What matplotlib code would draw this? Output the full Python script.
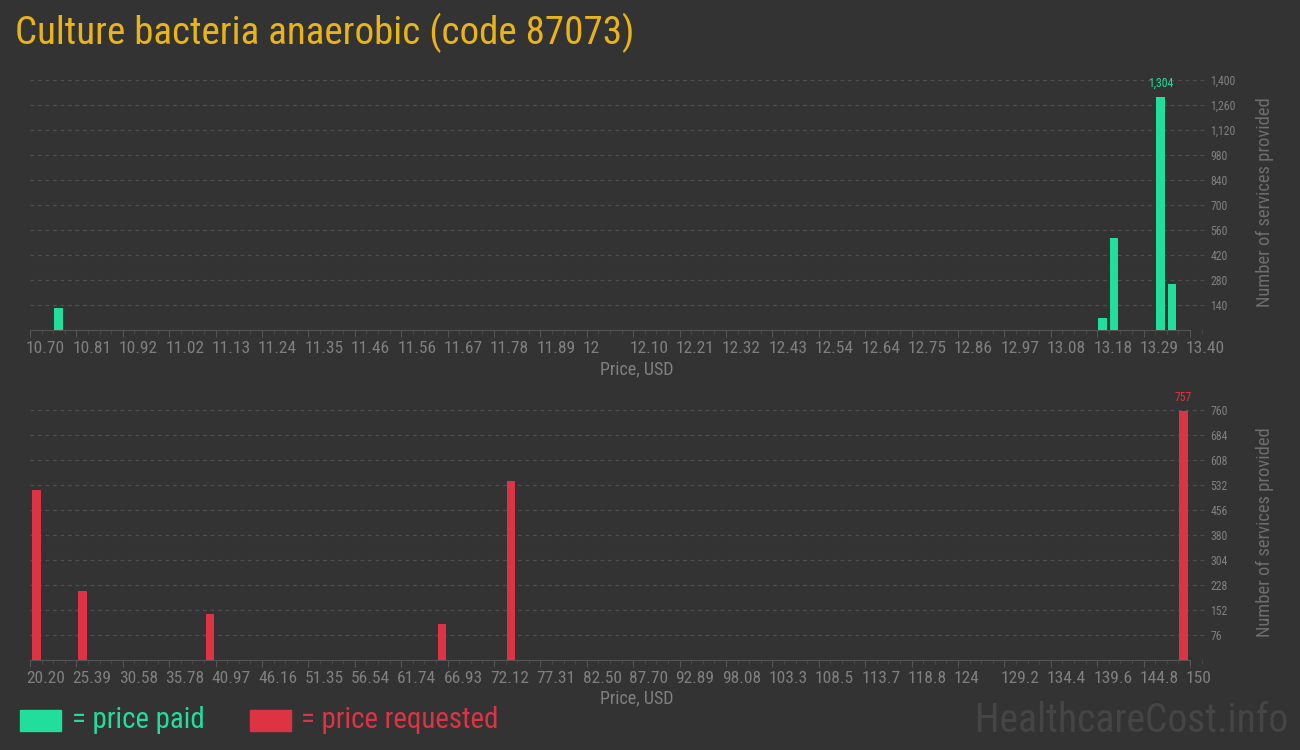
import matplotlib
matplotlib.use("Agg")
import matplotlib.pyplot as plt
from matplotlib import font_manager as fm
from matplotlib.patches import Rectangle
from matplotlib.transforms import ScaledTranslation
from matplotlib.ticker import AutoMinorLocator

# data
paid_price = [10.766, 13.196, 13.223, 13.331, 13.358]
paid_count = [125, 67, 515, 1304, 258]
paid_ticks = ["10.70", "10.81", "10.92", "11.02", "11.13", "11.24", "11.35", "11.46",
              "11.56", "11.67", "11.78", "11.89", "12", "12.10", "12.21", "12.32",
              "12.43", "12.54", "12.64", "12.75", "12.86", "12.97", "13.08", "13.18",
              "13.29", "13.40"]
paid_yticks = [140, 280, 420, 560, 700, 840, 980, 1120, 1260, 1400]

req_price = [20.90, 26.05, 40.35, 66.31, 74.05, 149.25]
req_count = [517, 211, 141, 108, 545, 757]
req_ticks = ["20.20", "25.39", "30.58", "35.78", "40.97", "46.16", "51.35", "56.54",
             "61.74", "66.93", "72.12", "77.31", "82.50", "87.70", "92.89", "98.08",
             "103.3", "108.5", "113.7", "118.8", "124", "129.2", "134.4", "139.6",
             "144.8", "150"]
req_yticks = [76, 152, 228, 304, 380, 456, 532, 608, 684, 760]

BG = "#333333"
GREEN = "#21de9c"
RED = "#dd3344"
GOLD = "#e8b418"
GRID = "#4e4e4e"
TXT = "#808080"

# pick a narrow font if one is around
names = ["Roboto Condensed", "Liberation Sans Narrow", "DejaVu Sans Condensed", "Open Sans Condensed"]
fpath = None
for n in names:
    for f in fm.fontManager.ttflist:
        if f.name == n and f.weight in (400, "normal", "regular") and f.style == "normal":
            fpath = f.fname
            break
    if fpath:
        break
if fpath is None:
    for f in fm.fontManager.ttflist:
        if "condensed" in str(f.stretch) and f.style == "normal" and f.weight in (400, "normal"):
            fpath = f.fname
            break


def fp(size):
    if fpath:
        return fm.FontProperties(fname=fpath, size=size)
    return fm.FontProperties(family="Roboto", size=size)


W, H = 1300, 750
fig = plt.figure(figsize=(13, 7.5), dpi=100, facecolor=BG)


def make_axes(top_px, xmin, xmax, ymax, prices, counts, ticks, yticks, color, bw):
    step = (xmax - xmin) / 25
    xr = xmax + 15 * step / 46.4
    ax = fig.add_axes([30 / W, 1 - (top_px + 250) / H, 1175 / W, 250 / H])
    ax.set_facecolor(BG)
    ax.bar(prices, counts, width=bw, color=color, zorder=3)
    ax.set_xlim(xmin, xr)
    ax.set_ylim(0, ymax)
    for s in ["top", "right", "left"]:
        ax.spines[s].set_visible(False)
    ax.spines["bottom"].set_color("#555555")
    ax.spines["bottom"].set_bounds(xmin, xmax)
    tpos = [xmin + i * step for i in range(26)]
    ax.set_xticks(tpos)
    ax.set_xticklabels(ticks, fontproperties=fp(12.5), color=TXT)
    ax.xaxis.set_minor_locator(AutoMinorLocator(4))
    ax.tick_params(axis="x", which="major", length=5, color="#555555", pad=3)
    ax.tick_params(axis="x", which="minor", length=3, color="#4a4a4a")
    off = ScaledTranslation(-0.04, 0, fig.dpi_scale_trans)
    for lab in ax.get_xticklabels():
        lab.set_ha("left")
        lab.set_transform(lab.get_transform() + off)
    ax.yaxis.tick_right()
    ax.set_yticks(yticks)
    ax.set_yticklabels([f"{v:,}" for v in yticks], fontproperties=fp(8.5), color=TXT)
    ax.tick_params(axis="y", length=0, pad=4)
    ax.grid(axis="y", color=GRID, linestyle=(0, (3, 3)), linewidth=0.9, zorder=0)
    i = counts.index(max(counts))
    ax.annotate(f"{counts[i]:,}", (prices[i], counts[i]), xytext=(0, 5),
                textcoords="offset points", ha="center", va="bottom",
                color=color, fontproperties=fp(8.5), annotation_clip=False)
    return ax


make_axes(80, 10.70, 13.40, 1400, paid_price, paid_count, paid_ticks, paid_yticks, GREEN, 0.0195)
make_axes(410, 20.20, 150.0, 760, req_price, req_count, req_ticks, req_yticks, RED, 0.95)

for yc in (202, 532):
    fig.text(1265 / W, 1 - yc / H, "Number of services provided", rotation=90,
             ha="center", va="center", color="#6e6e6e", fontproperties=fp(13.3))
for yc in (369, 698):
    fig.text(637 / W, 1 - yc / H, "Price, USD", ha="center", va="center",
             color=TXT, fontproperties=fp(13))

fig.text(15 / W, 1 - 33 / H, "Culture bacteria anaerobic (code 87073)", ha="left",
         va="center", color=GOLD, fontproperties=fp(28.1))

# legend
fig.patches.append(Rectangle((20 / W, 1 - 731 / H), 41 / W, 21 / H, color=GREEN,
                             transform=fig.transFigure, figure=fig))
fig.text(72 / W, 1 - 720 / H, "= price paid", ha="left", va="center", color=GREEN,
         fontproperties=fp(20.8))
fig.patches.append(Rectangle((250 / W, 1 - 731 / H), 41 / W, 21 / H, color=RED,
                             transform=fig.transFigure, figure=fig))
fig.text(301 / W, 1 - 720 / H, "= price requested", ha="left", va="center", color=RED,
         fontproperties=fp(20.8))
fig.text(1288 / W, 1 - 720 / H, "HealthcareCost.info", ha="right", va="center",
         color="#454545", fontproperties=fp(28.5))

fig.savefig("out.png", dpi=100, facecolor=BG)
